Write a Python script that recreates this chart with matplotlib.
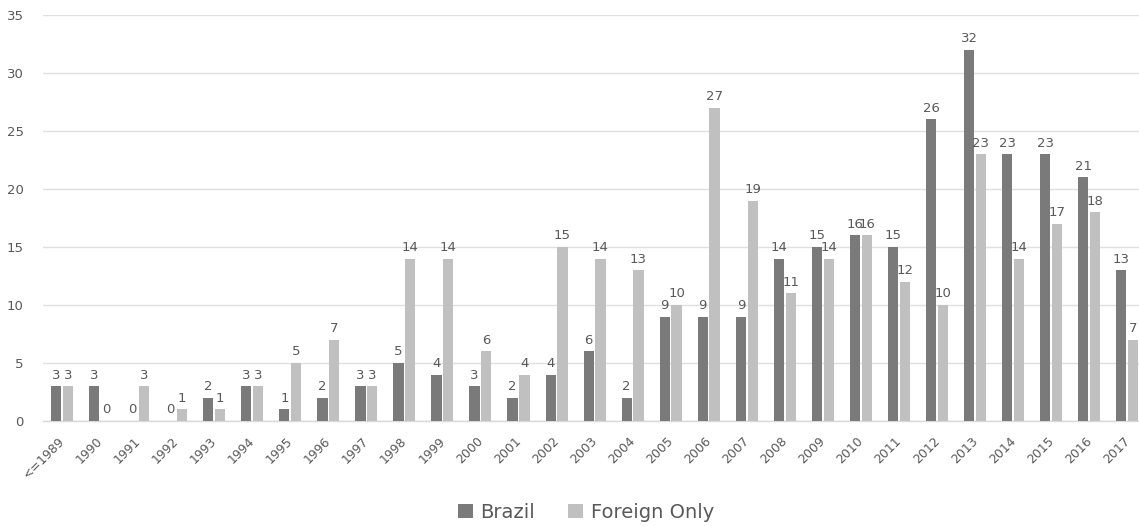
import matplotlib
matplotlib.use("Agg")
import matplotlib.pyplot as plt
import matplotlib.transforms as mtransforms
import numpy as np

categories = ["<=1989"] + [str(y) for y in range(1990, 2018)]
brazil = [3, 3, 0, 0, 2, 3, 1, 2, 3, 5, 4, 3, 2, 4, 6, 2, 9, 9, 9, 14, 15, 16, 15, 26, 32, 23, 23, 21, 13]
foreign = [3, 0, 3, 1, 1, 3, 5, 7, 3, 14, 14, 6, 4, 15, 14, 13, 10, 27, 19, 11, 14, 16, 12, 10, 23, 14, 17, 18, 7]

W, H = 1139, 526
fig = plt.figure(figsize=(W / 100, H / 100), dpi=100)
left, right, top, bottom = 43, 1139, 15, 421
ax = fig.add_axes([left / W, 1 - bottom / H, (right - left) / W, (bottom - top) / H])

txt = "#595959"
c_br = "#7a7a7a"
c_fo = "#c0c0c0"
x = np.arange(len(categories))
bw = 0.27
off = 0.155
b1 = ax.bar(x - off, brazil, bw, color=c_br, label="Brazil", zorder=3)
b2 = ax.bar(x + off, foreign, bw, color=c_fo, label="Foreign Only", zorder=3)
for bars in (b1, b2):
    for r in bars:
        h = r.get_height()
        ax.text(r.get_x() + r.get_width() / 2, h + 0.4, f"{int(h)}", ha="center", va="bottom",
                fontsize=9.5, color=txt)

span = (right - left) / 38.04
ax.set_xlim(-0.5, -0.5 + span)
ax.set_ylim(0, 35)
ax.set_yticks(range(0, 36, 5))
ax.grid(axis="y", color="#e0e0e0", linewidth=1, zorder=0)
ax.set_xticks(x)
ax.set_xticklabels(categories, rotation=45, ha="right", rotation_mode="anchor")
ax.tick_params(axis="both", length=0, colors=txt)
ax.tick_params(axis="x", pad=10, labelsize=9)
ax.tick_params(axis="y", pad=14, labelsize=9.5)
shift = mtransforms.ScaledTranslation(-4 / 100, 0, fig.dpi_scale_trans)
for lab in ax.get_xticklabels():
    lab.set_transform(lab.get_transform() + shift)
for s in ["top", "right", "left"]:
    ax.spines[s].set_visible(False)
ax.spines["bottom"].set_color("#d9d9d9")
ax.spines["bottom"].set_linewidth(1)

fig.legend(handles=[b1, b2], labels=["Brazil", "Foreign Only"], loc="center",
           bbox_to_anchor=(586 / W, 1 - 512 / H), ncol=2, frameon=False,
           fontsize=14, labelcolor=txt, handlelength=0.75, handleheight=0.75,
           handletextpad=0.4, columnspacing=1.7)

fig.savefig("out.png", dpi=100)
